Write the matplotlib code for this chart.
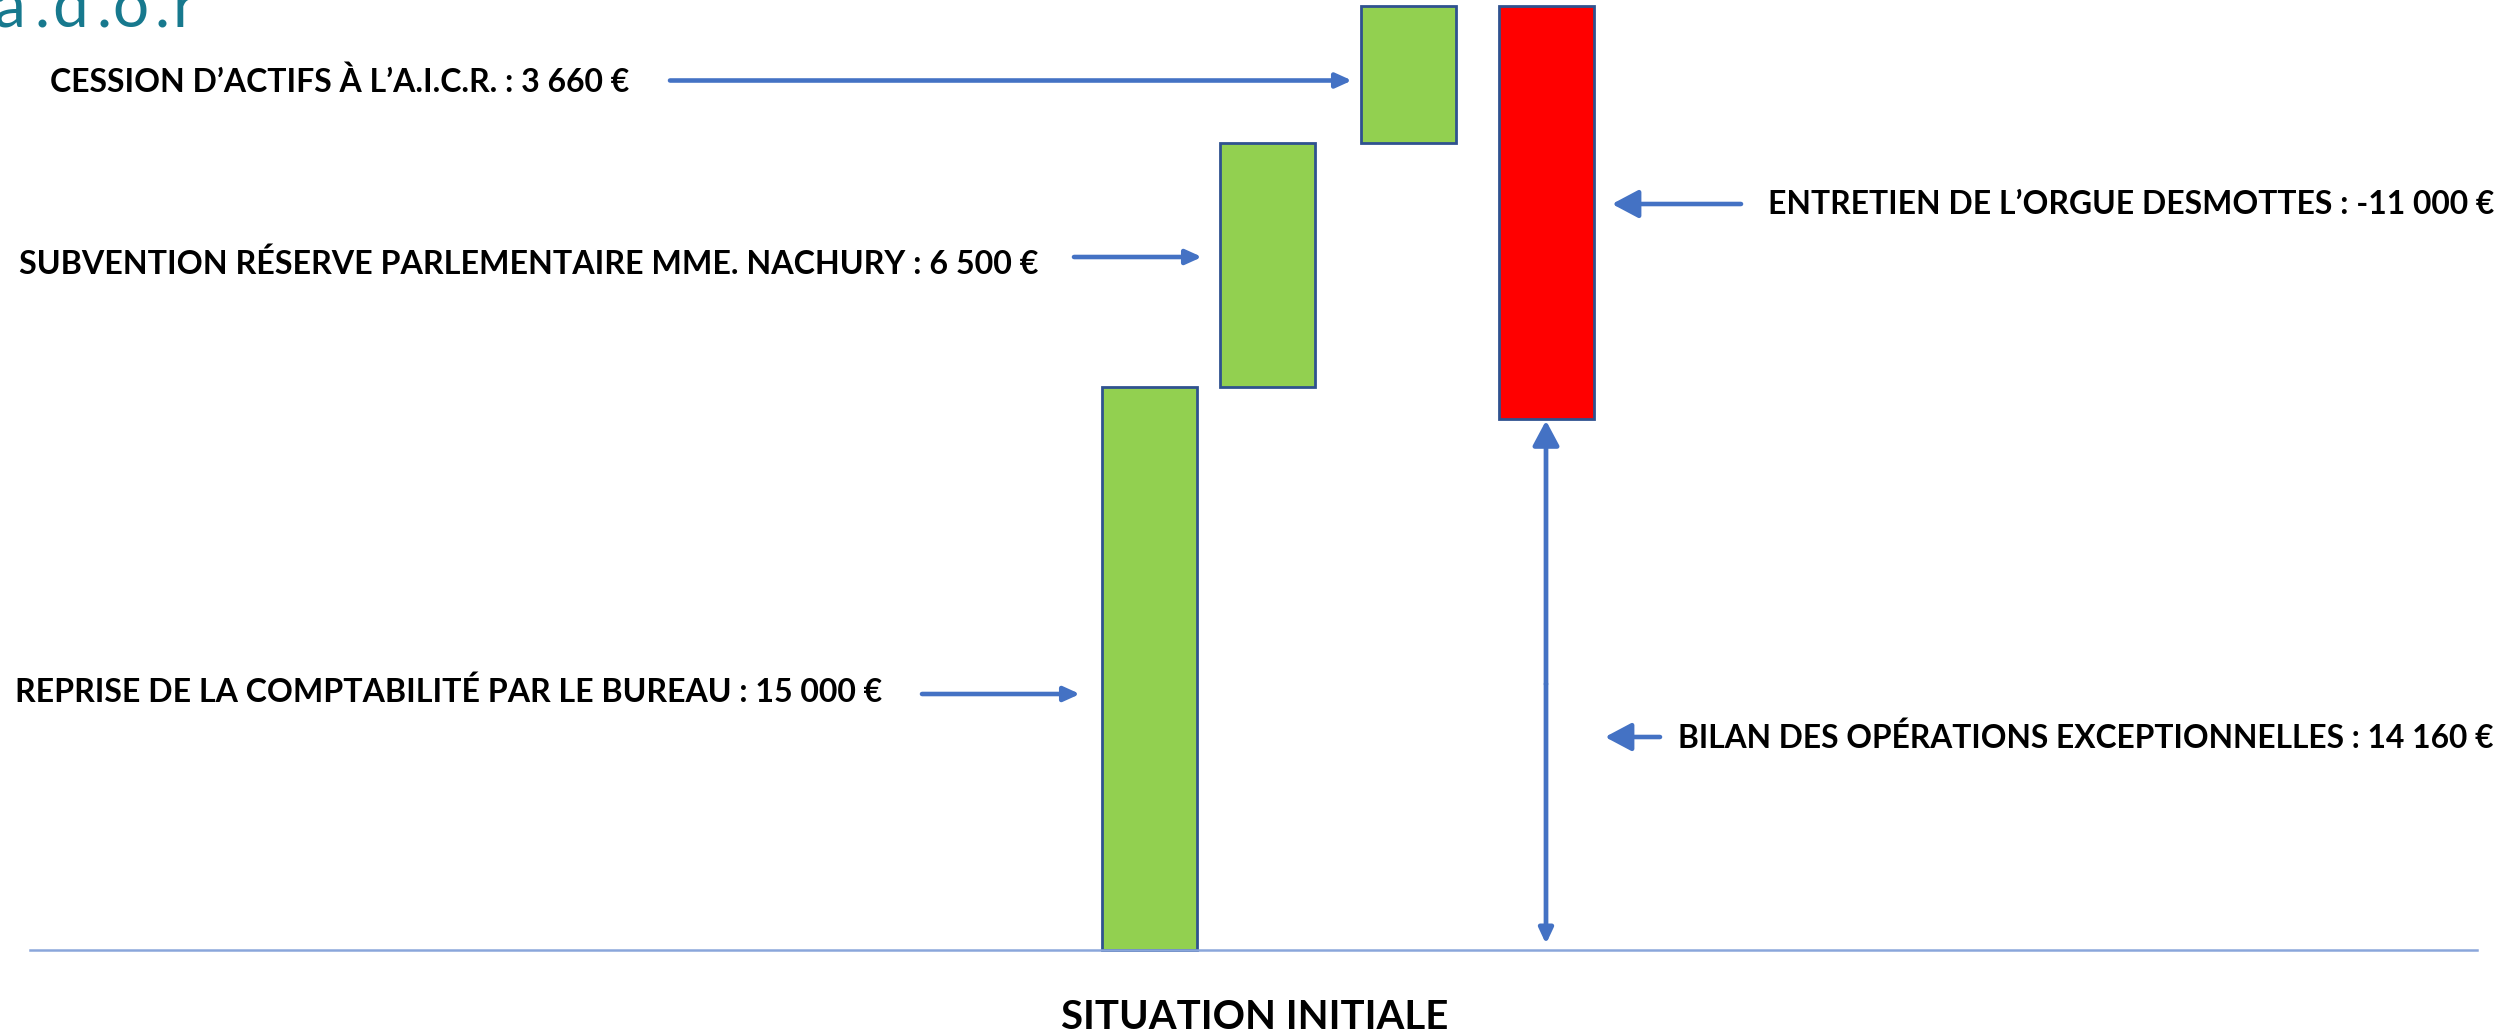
import matplotlib
matplotlib.use("Agg")
import matplotlib.pyplot as plt
from matplotlib.patches import FancyArrowPatch

# Waterfall of the exceptional operations (euros)
steps = ["Reprise comptabilité", "Subvention réserve parlementaire", "Cession d'actifs", "Entretien orgue"]
amounts = [15000, 6500, 3660, -11000]
labels = [
    "REPRISE DE LA COMPTABILITÉ PAR LE BUREAU : 15 000 €",
    "SUBVENTION RÉSERVE PARLEMENTAIRE MME. NACHURY : 6 500 €",
    "CESSION D’ACTIFS À L’A.I.C.R. : 3 660 €",
    "ENTRETIEN DE L’ORGUE DESMOTTES : -11 000 €",
]
total_label = "BILAN DES OPÉRATIONS EXCEPTIONNELLES : 14 160 €"
base_label = "SITUATION INITIALE"
logo_chars = list("a.d.o.r")

# layout (pixels, measured from top-left of the picture)
W, H = 2514, 1035
ZERO_PX = 949.5
PX_PER_EUR = 37.5 / 1000
BAR_X = [1149.5, 1267.5, 1408.5, 1546]
BAR_W = 95
GREEN, RED, EDGE, BLUE, BASE = "#92D050", "#FF0000", "#2F528F", "#4472C4", "#8AA6DB"
FONT = "Lato"

# text box: left, right, baseline ; arrow: tail x, tip x, y, big head?
LABEL_LAYOUT = [
    (15, 882, 702, 922, 1080, 694, False),
    (19, 1038, 274, 1074, 1202, 257, False),
    (50, 631, 92, 670, 1352, 80.5, False),
    (1768, 2493, 214.5, 1741, 1612, 204, True),
]
TOTAL_LAYOUT = (1678, 2494, 748.5, 1660, 1605, 737, True)


def fx(p):
    return p / W


def fy(p):
    return 1 - p / H


fig = plt.figure(figsize=(W / 100, H / 100), dpi=100)
ax = fig.add_axes([0, 0, 1, 1])
ax.set_xlim(0, W)
ax.set_ylim(-(H - ZERO_PX) / PX_PER_EUR, ZERO_PX / PX_PER_EUR)
ax.axis("off")

# bars
running = 0
for x, amt in zip(BAR_X, amounts):
    bottom = running if amt >= 0 else running + amt
    ax.bar(x, abs(amt), bottom=bottom, width=BAR_W, color=GREEN if amt >= 0 else RED,
           edgecolor=EDGE, linewidth=2.0, zorder=2)
    running += amt
final = running

ax.plot([30, 2477], [0, 0], color=BASE, linewidth=1.8, zorder=3)

# vertical "bilan" double arrow under the red bar
mid = final / 2
ax.annotate("", xy=(BAR_X[-1], final), xytext=(BAR_X[-1], mid),
            arrowprops=dict(arrowstyle="-|>,head_length=15,head_width=8", mutation_scale=1,
                            color=BLUE, lw=3.4, shrinkA=0, shrinkB=1.5))
ax.annotate("", xy=(BAR_X[-1], 0), xytext=(BAR_X[-1], mid),
            arrowprops=dict(arrowstyle="-|>,head_length=9,head_width=4.2", mutation_scale=1,
                            color=BLUE, lw=3.4, shrinkA=0, shrinkB=4))

renderer = fig.canvas.get_renderer()


def fitted_text(s, left, right, baseline, **kw):
    t = fig.text(fx(left), fy(baseline), s, ha="left", va="baseline", fontsize=20,
                 family=FONT, fontweight="bold", color="black", **kw)
    bb = t.get_window_extent(renderer)
    t.set_fontsize(20 * (right - left) / bb.width)
    return t


def side_arrow(tail, tip, y, big):
    style = "-|>,head_length=16,head_width=8.5" if big else "-|>,head_length=9.5,head_width=4.3"
    fig.add_artist(FancyArrowPatch(
        (fx(tail), fy(y)), (fx(tip), fy(y)), transform=fig.transFigure,
        arrowstyle=style, mutation_scale=1, color=BLUE, lw=3.3, shrinkA=0, shrinkB=0))


for s, (l, r, b, tail, tip, ay, big) in zip(labels, LABEL_LAYOUT):
    fitted_text(s, l, r, b)
    side_arrow(tail, tip, ay, big)

l, r, b, tail, tip, ay, big = TOTAL_LAYOUT
fitted_text(total_label, l, r, b)
side_arrow(tail, tip, ay, big)

fitted_text(base_label, 1061, 1448, 1029)

# logo in the top-left corner, its upper part cut by the frame
logo_x = [10, 42.5, 70.5, 104.5, 130.5, 162.5, 184]
for ch, x in zip(logo_chars, logo_x):
    fig.text(fx(x), fy(27), ch, ha="center", va="baseline", fontsize=46,
             family=FONT, fontweight="normal", color="#17798E")

fig.savefig("out.png", dpi=100)
